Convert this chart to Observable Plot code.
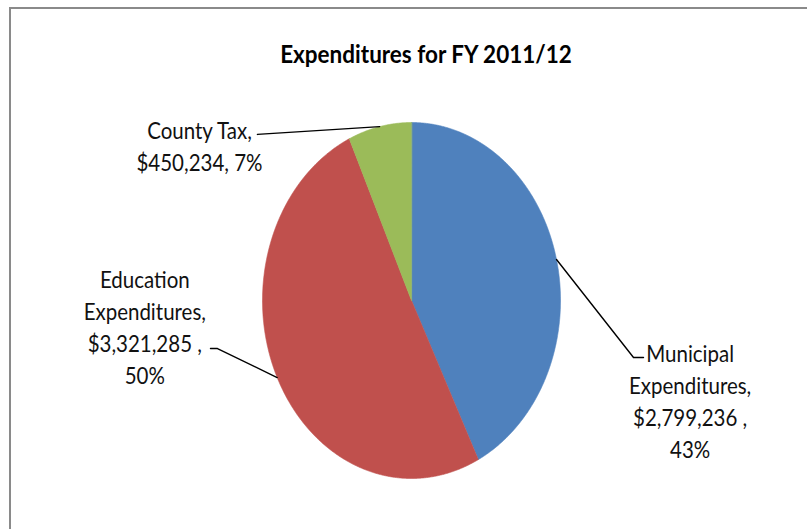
<!DOCTYPE html>
<html><head><meta charset="utf-8">
<script src="https://cdn.jsdelivr.net/npm/d3@7"></script>
<script src="https://cdn.jsdelivr.net/npm/@observablehq/plot@0.6"></script>
<style>
body{margin:0;background:#fff;overflow:hidden}
#wrap{position:relative;width:807px;height:529px;overflow:hidden;background:#fff}
#border{position:absolute;left:9px;top:7px;width:900px;height:700px;border:2px solid #8a8a8a;box-sizing:border-box;pointer-events:none}
</style></head><body><div id="wrap"><div id="border"></div></div>
<script>
// ---- data ----
const categories = ["Municipal Expenditures", "Education Expenditures", "County Tax"];
const values = [2799236, 3321285, 450234];
const percentLabels = ["43%", "50%", "7%"];
const colors = ["#4F81BD", "#C0504D", "#9BBB59"];
const title = "Expenditures for FY 2011/12";
const labelTexts = [
  "Municipal\nExpenditures,\n$2,799,236 ,\n43%",
  "Education\nExpenditures,\n$3,321,285 ,\n50%",
  "County Tax,\n$450,234, 7%"
];
// ---- label layout (unit pie coordinates) ----
const labelPos = [[1.87, -0.555], [-1.79, -0.14], [-1.423, 0.876]];
const leaderStart = [[1.557, -0.32], [-1.349, -0.27], [-1.034, 0.933]];
const leaderElbow = [[1.49, -0.32], [-1.302, -0.27], [-1.034, 0.933]];

const STRETCH = 1.14;
const arcs = d3.pie().sort(null).value(d => d)(values);

const slicePts = [];
arcs.forEach((a, i) => {
  const name = categories[i];
  slicePts.push({name, x: 0, y: 0});
  const n = Math.max(2, Math.ceil((a.endAngle - a.startAngle) / 0.005));
  for (let k = 0; k <= n; k++) {
    const t = a.startAngle + (a.endAngle - a.startAngle) * k / n;
    slicePts.push({name, x: Math.sin(t), y: Math.cos(t)});
  }
});

const leaderPts = [];
arcs.forEach((a, i) => {
  const name = categories[i];
  const mid = (a.startAngle + a.endAngle) / 2;
  leaderPts.push({name, x: leaderStart[i][0], y: leaderStart[i][1]});
  leaderPts.push({name, x: leaderElbow[i][0], y: leaderElbow[i][1]});
  leaderPts.push({name, x: Math.sin(mid), y: Math.cos(mid)});
});

const labels = categories.map((c, i) => ({name: c, x: labelPos[i][0], y: labelPos[i][1], text: labelTexts[i]}));

const chart = Plot.plot({
  width: 807,
  height: 529,
  margin: 0,
  style: {fontFamily: "Lato", background: "transparent"},
  x: {domain: [-1, 1], range: [262, 560], axis: null},
  y: {domain: [-1, 1], range: [478, 122], axis: null},
  color: {domain: categories, range: colors},
  marks: [
    Plot.line(slicePts, {x: "x", y: "y", z: "name", fill: "name", stroke: "name", strokeWidth: 0.6, curve: "linear-closed"}),
    Plot.line(leaderPts, {x: "x", y: "y", z: "name", stroke: "#000", strokeWidth: 1.4}),
    Plot.text(labels, {x: "x", y: "y", text: "text", fontSize: 20.5, lineHeight: 1.37, fill: "#111", textAnchor: "middle", lineAnchor: "middle"}),
    Plot.text([title], {frameAnchor: "top", dx: 22, dy: 54, fontSize: 22.5, fontWeight: "bold", fill: "#000", lineAnchor: "middle"})
  ]
});

chart.querySelectorAll("text").forEach(t => {
  const tr = t.getAttribute("transform");
  if (tr && /translate/.test(tr)) {
    t.setAttribute("transform", tr + ` scale(1,${STRETCH})`);
  } else {
    const x = +t.getAttribute("x") || 0, y = +t.getAttribute("y") || 0;
    t.removeAttribute("x"); t.removeAttribute("y");
    t.setAttribute("transform", `translate(${x},${y}) scale(1,${STRETCH})`);
  }
});

document.getElementById("wrap").appendChild(chart);
</script>
</body></html>
